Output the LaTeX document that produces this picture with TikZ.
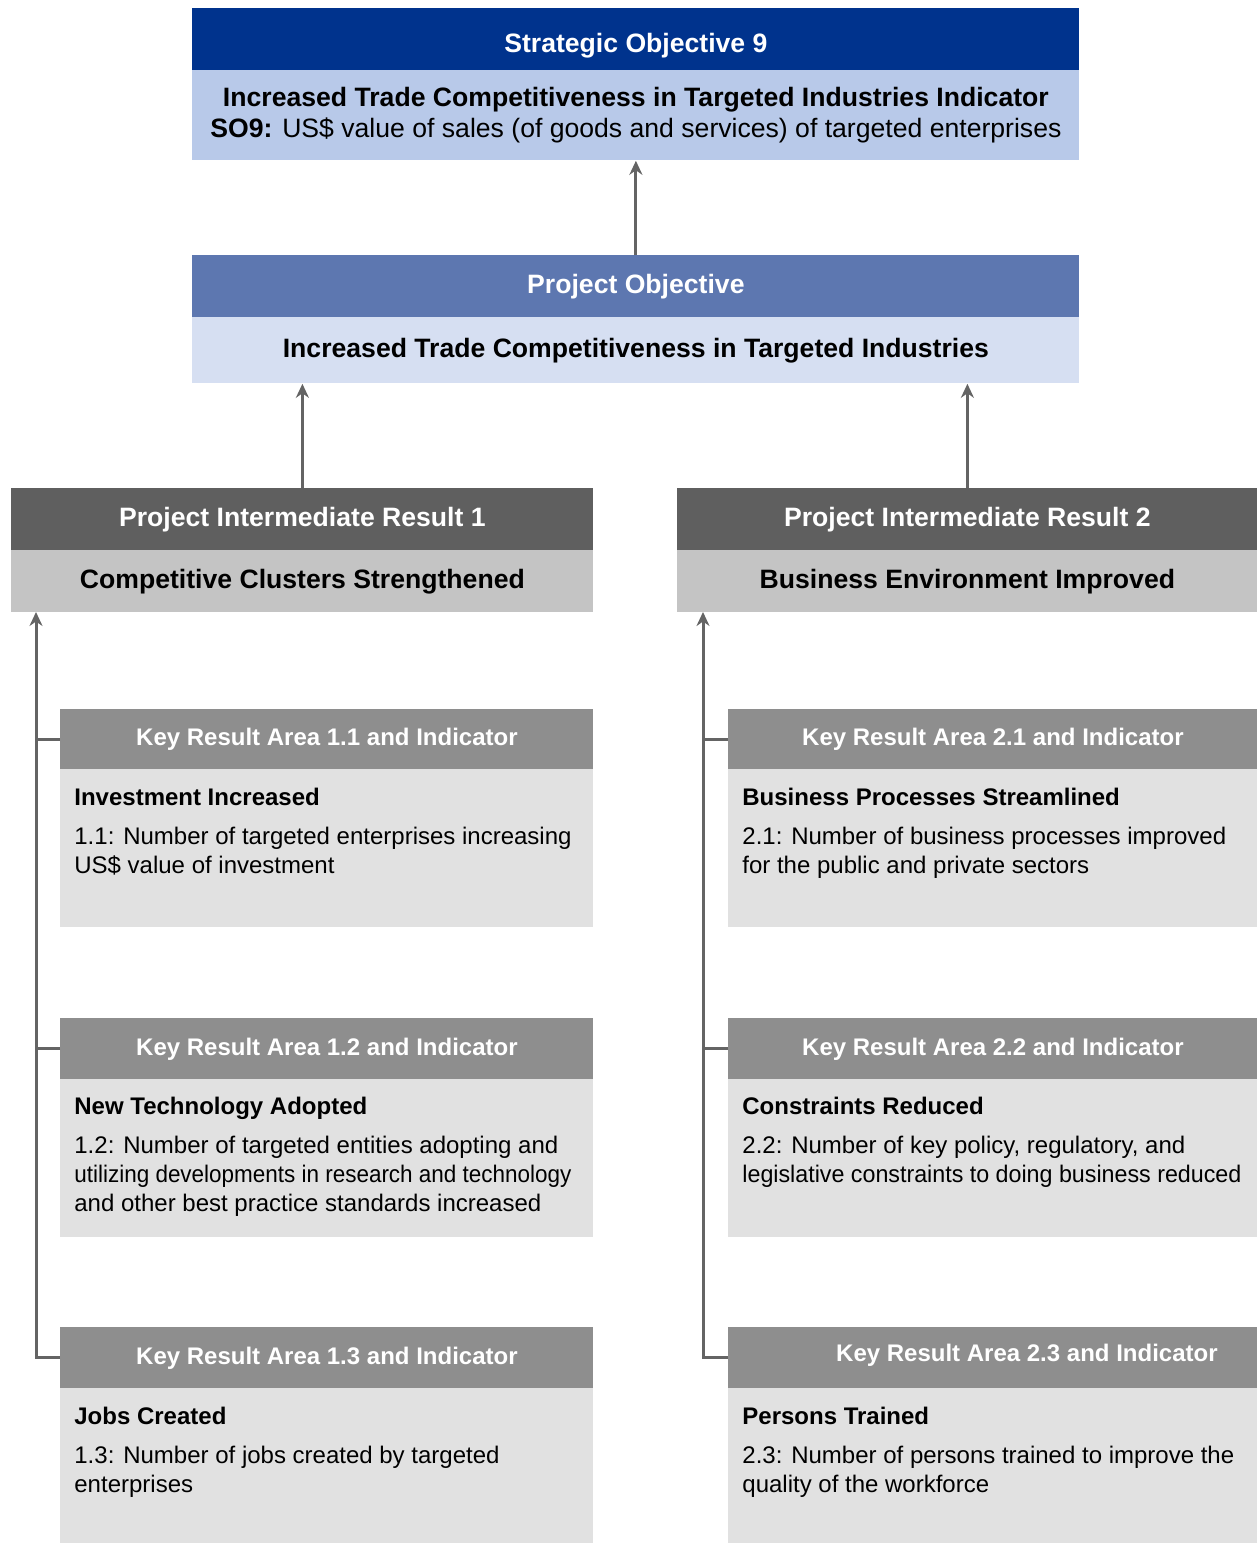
\documentclass[tikz,border=0pt]{standalone}
\usepackage{fontspec}
\setmainfont{Liberation Sans}
\usepackage{xcolor}
\usepackage{tikz}
\usetikzlibrary{calc}
\usetikzlibrary{arrows.meta}

\definecolor{sodark}{RGB}{0,51,141}
\definecolor{solight}{RGB}{184,201,233}
\definecolor{podark}{RGB}{93,119,176}
\definecolor{polight}{RGB}{214,223,242}
\definecolor{irdark}{RGB}{95,95,95}
\definecolor{irlight}{RGB}{196,196,196}
\definecolor{kradark}{RGB}{142,142,142}
\definecolor{kralight}{RGB}{225,225,225}
\definecolor{linegray}{RGB}{100,100,100}

\newcommand{\bigfont}{\fontsize{13.3}{15.5}\selectfont}
\newcommand{\krafont}{\fontsize{12}{14.5}\selectfont}

\tikzset{
  box/.style={rectangle, anchor=north west, inner sep=0pt},
  head/.style={box, text=white, font=\bfseries\bigfont},
  krahead/.style={box, fill=kradark, minimum height=30pt, text=white, font=\bfseries\krafont},
  krabody/.style={box, fill=kralight},
  kratext/.style={anchor=north west, inner sep=0pt, align=left, font=\krafont},
  conn/.style={draw=linegray, line width=1.5pt},
  up/.style={conn, -{Stealth[length=7pt,width=6.5pt]}}
}

\begin{document}
\begin{tikzpicture}[x=0.5pt, y=-0.5pt]

    \useasboundingbox (0,0) rectangle (1257,1543);

    % Define nodes
    \node[head, fill=sodark, minimum width=443.5pt, minimum height=31pt] (sohead) at (192,8)
      {\raisebox{-3pt}[\height][\depth]{Strategic Objective 9}};
    \node[box, fill=solight, minimum width=443.5pt, minimum height=45pt, align=center, font=\bigfont] (sobody) at (192,70)
      {\textbf{Increased Trade Competitiveness in Targeted Industries Indicator}\\
       \textbf{SO9:} US\$ value of sales (of goods and services) of targeted enterprises};

    \node[head, fill=podark, minimum width=443.5pt, minimum height=31pt] (pohead) at (192,255) {Project Objective};
    \node[box, fill=polight, minimum width=443.5pt, minimum height=33pt, font=\bfseries\bigfont] (pobody) at (192,317)
      {Increased Trade Competitiveness in Targeted Industries};

    \node[head, fill=irdark, minimum width=291pt, minimum height=31pt] (ir1head) at (11,488) {Project Intermediate Result 1};
    \node[box, fill=irlight, minimum width=291pt, minimum height=31pt, font=\bfseries\bigfont] (ir1body) at (11,550) {Competitive Clusters Strengthened};
    \node[head, fill=irdark, minimum width=290pt, minimum height=31pt] (ir2head) at (677,488) {Project Intermediate Result 2};
    \node[box, fill=irlight, minimum width=290pt, minimum height=31pt, font=\bfseries\bigfont] (ir2body) at (677,550) {Business Environment Improved};

    % key result areas, left column
    \node[krahead, minimum width=266.5pt] (kra11) at (60,709) {Key Result Area 1.1 and Indicator};
    \node[krabody, minimum width=266.5pt, minimum height=79pt] (kra11body) at (60,769) {};
    \node[kratext] (kra11text) at (74,788) {\textbf{Investment Increased}\\[5pt]
      1.1: Number of targeted enterprises increasing\\ US\$ value of investment};

    \node[krahead, minimum width=266.5pt, minimum height=30.5pt] (kra12) at (60,1018) {Key Result Area 1.2 and Indicator};
    \node[krabody, minimum width=266.5pt, minimum height=79pt] (kra12body) at (60,1079) {};
    \node[kratext] (kra12text) at (74,1097) {\textbf{New Technology Adopted}\\[5pt]
      1.2: Number of targeted entities adopting and\\
      \scalebox{0.936}[1]{utilizing developments in research and technology}\\
      and other best practice standards increased};

    \node[krahead, minimum width=266.5pt, minimum height=30.5pt] (kra13) at (60,1327) {Key Result Area 1.3 and Indicator};
    \node[krabody, minimum width=266.5pt, minimum height=77.5pt] (kra13body) at (60,1388) {};
    \node[kratext] (kra13text) at (74,1407) {\textbf{Jobs Created}\\[5pt]
      1.3: Number of jobs created by targeted\\ enterprises};

    % key result areas, right column
    \node[krahead, minimum width=264.5pt] (kra21) at (728,709) {Key Result Area 2.1 and Indicator};
    \node[krabody, minimum width=264.5pt, minimum height=79pt] (kra21body) at (728,769) {};
    \node[kratext] (kra21text) at (742,788) {\textbf{Business Processes Streamlined}\\[5pt]
      2.1: Number of business processes improved\\ for the public and private sectors};

    \node[krahead, minimum width=264.5pt, minimum height=30.5pt] (kra22) at (728,1018) {Key Result Area 2.2 and Indicator};
    \node[krabody, minimum width=264.5pt, minimum height=79pt] (kra22body) at (728,1079) {};
    \node[kratext] (kra22text) at (742,1097) {\textbf{Constraints Reduced}\\[5pt]
      2.2: Number of key policy, regulatory, and\\
      \scalebox{0.969}[1]{legislative constraints to doing business reduced}};

    \node[krahead, minimum width=264.5pt, minimum height=30.5pt] (kra23) at (728,1327)
      {\hspace*{34pt}\raisebox{1.5pt}[\height][\depth]{Key Result Area 2.3 and Indicator}};
    \node[krabody, minimum width=264.5pt, minimum height=77.5pt] (kra23body) at (728,1388) {};
    \node[kratext] (kra23text) at (742,1407) {\textbf{Persons Trained}\\[5pt]
      2.3: Number of persons trained to improve the\\ quality of the workforce};

    \coordinate (spine1) at (36,612);
    \coordinate (spine2) at (703,612);

    % Connect the nodes
    \draw[up] (pohead.north) -- (sobody.south);
    \draw[up] (ir1head.north) -- (ir1head.north |- pobody.south);
    \draw[up] (ir2head.north) -- (ir2head.north |- pobody.south);

    \draw[up] (kra13.west) -| (spine1);
    \draw[conn] (kra11.west) -- (kra11.west -| spine1);
    \draw[conn] (kra12.west) -- (kra12.west -| spine1);

    \draw[up] (kra23.west) -| (spine2);
    \draw[conn] (kra21.west) -- (kra21.west -| spine2);
    \draw[conn] (kra22.west) -- (kra22.west -| spine2);

  \end{tikzpicture}
\end{document}
